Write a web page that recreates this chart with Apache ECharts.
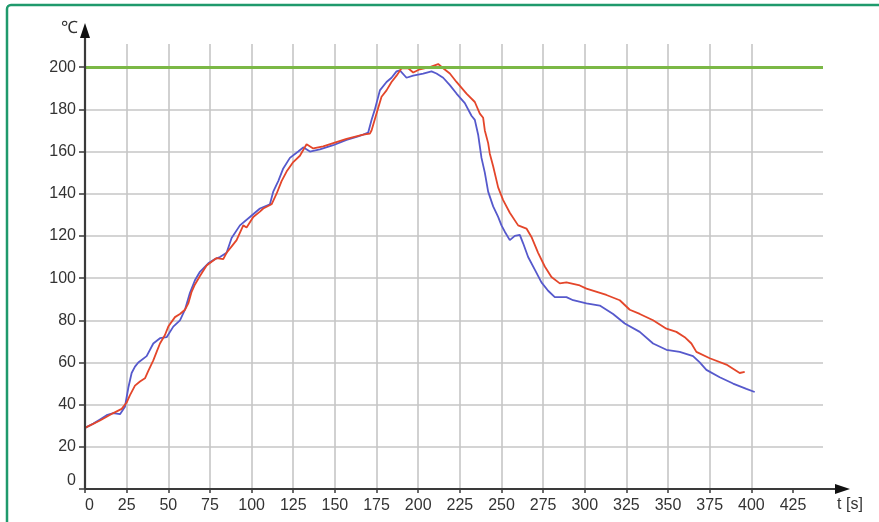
<!DOCTYPE html>
<html>
<head>
<meta charset="utf-8">
<script src="https://cdn.jsdelivr.net/npm/echarts@6/dist/echarts.min.js"></script>
<style>
html,body{margin:0;padding:0;background:#fff;}
#chart{width:879px;height:522px;}
</style>
</head>
<body>
<div id="chart"></div>
<script>
// ---- data ----
const xTicks = [0,25,50,75,100,125,150,175,200,225,250,275,300,325,350,375,400,425];
const yTicks = [0,20,40,60,80,100,120,140,160,180,200];
const limitValue = 200;

const blueT = [0,5,9,13,17,21,24,26,28,30,32,37,41,45,49,53,57,60,63,66,69,74,78,81,85,88,93,99,105,111,113,116,119,123,128,131,135,141,149,157,163,167,170,172,174,177,181,184,187,189,193,197,203,208,211,215,219,223,228,232,234,236,238,240,242,245,248,250,252,255,258,261,263,266,270,274,278,282,289,293,301,309,317,324,333,341,349,357,365,369,373,381,389,397,402];
const blueV = [29,31,33,35,36,35.5,39,48,55,58,60,63,69,71.5,72,77,80,85,93,99,103,107,109,110,112,119,125,129,133,135,141,146,152,157,160,162,160,161,163,165.5,167,168,169,175,180,189,193,195,198,198.5,195,196,197,198,197,195,191.5,187.5,183,177,175,168,157,150,141,134,129,125,122,118,120,120.5,116.5,110,104,98,94,91,91,89.5,88,87,83,78.5,74.5,69,66,65,63,60,56.5,53,50,47.5,46];

const redT = [0,9,17,22,25,27,30,33,36,38,41,43,45,48,50,54,57,60,62,64,66,69,73,79,83,85,89,91,95,97,101,105,107,112,115,118,121,125,129,133,137,143,149,157,167,171,172,175,178,181,184,187,190,194,197,201,207,212,215,219,223,229,234,237,239,240,242,243,245,248,251,255,260,265,268,272,276,280,285,289,297,301,313,321,327,333,341,349,355,360,364,367,375,385,393,396];
const redV = [29,32.5,36,38,41,44.5,49,51,52.5,56,61,65,69,73,77,81.5,83,85,88,93.5,97,101,106,109.5,109,112,116,118,125,124,129,131.5,133,135,140,146,150.5,155,158,163.5,161.5,162.5,164,166,168,168.5,170,178,186,189,193,196,199.5,199.5,197.5,199,200,201.5,199.5,197,193,187.5,183.5,178,176,170,164,159,153,143,137,131,125,123.5,119.5,112,105.5,100.5,97.5,98,96.5,95,92,89.5,85,83,80,76,74.5,72,69,65,62,59,55,55.5];

const pair = (t, v) => t.map((x, i) => [x, v[i]]);

const FONT = '"Liberation Sans", Arial, sans-serif';
const TXT = '#333333';
const GRID_COL = '#c6c6c6';
const AXIS_COL = '#3a3a3a';

const chart = echarts.init(document.getElementById('chart'), null, {renderer: 'canvas'});
const option = {
  animation: false,
  backgroundColor: '#ffffff',
  grid: {left: 85, right: 56, top: 44, bottom: 33, containLabel: false},
  xAxis: {
    type: 'value', min: 0, max: 443, interval: 25,
    axisLine: {show: false},
    axisTick: {show: true, customValues: xTicks, length: 4, lineStyle: {color: AXIS_COL, width: 1.5}},
    axisLabel: {customValues: xTicks, margin: 9, fontFamily: FONT, fontSize: 16, color: TXT, alignMinLabel: 'left'},
    splitLine: {show: true, showMaxLine: false, showMinLine: false, lineStyle: {color: GRID_COL, width: 1.6}}
  },
  yAxis: {
    type: 'value', min: 0, max: 211, interval: 20,
    axisLine: {show: false},
    axisTick: {show: true, customValues: yTicks, length: 6, lineStyle: {color: AXIS_COL, width: 1.5}},
    axisLabel: {customValues: yTicks, margin: 9, fontFamily: FONT, fontSize: 16, color: TXT, verticalAlignMinLabel: 'bottom'},
    splitLine: {show: true, showMaxLine: false, showMinLine: false, lineStyle: {color: GRID_COL, width: 1.6}}
  },
  series: [
    {
      type: 'line', name: 'limit', data: [], silent: true,
      markLine: {
        silent: true, symbol: ['none', 'none'], label: {show: false},
        lineStyle: {color: '#7bb846', width: 3, type: 'solid'},
        data: [{yAxis: limitValue}]
      }
    },
    {
      type: 'line', name: 'blue', data: pair(blueT, blueV), showSymbol: false, smooth: false,
      lineStyle: {color: '#5659cc', width: 1.8}, z: 3
    },
    {
      type: 'line', name: 'red', data: pair(redT, redV), showSymbol: false, smooth: false,
      lineStyle: {color: '#e4462a', width: 1.8}, z: 4
    }
  ]
};
chart.setOption(option);

// axis lines with arrows, positioned from the library's coordinate system
const o = chart.convertToPixel({gridIndex: 0}, [0, 0]);
const xEnd = 850, yTop = 23;
chart.setOption({
  graphic: [
    {type: 'rect', shape: {x: 7, y: 5, width: 1000, height: 1000, r: 4}, style: {fill: 'none', stroke: '#1f9a6c', lineWidth: 2.5}, z: 100},
    {type: 'line', shape: {x1: o[0], y1: o[1], x2: xEnd - 12, y2: o[1]}, style: {stroke: AXIS_COL, lineWidth: 2.2}, z: 50},
    {type: 'polygon', shape: {points: [[xEnd, o[1]], [xEnd - 15, o[1] - 5], [xEnd - 15, o[1] + 5]]}, style: {fill: '#111'}, z: 50},
    {type: 'line', shape: {x1: o[0], y1: o[1], x2: o[0], y2: yTop + 12}, style: {stroke: AXIS_COL, lineWidth: 2.2}, z: 50},
    {type: 'polygon', shape: {points: [[o[0], yTop], [o[0] - 5, yTop + 15], [o[0] + 5, yTop + 15]]}, style: {fill: '#111'}, z: 50},
    {type: 'text', x: 69, y: 28, style: {text: '℃', font: '17px ' + FONT, fill: TXT, align: 'center', verticalAlign: 'middle'}, z: 50},
    {type: 'text', x: 850, y: 505, style: {text: 't [s]', font: '16px ' + FONT, fill: TXT, align: 'center', verticalAlign: 'middle'}, z: 50}
  ]
});
</script>
</body>
</html>
